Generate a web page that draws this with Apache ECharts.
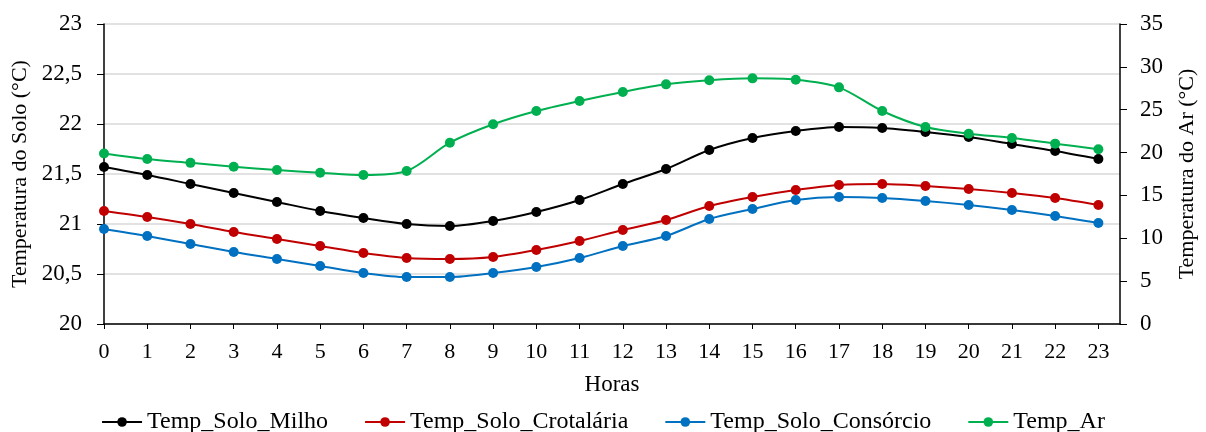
<!DOCTYPE html>
<html>
<head>
<meta charset="utf-8">
<script src="https://cdn.jsdelivr.net/npm/echarts@6/dist/echarts.min.js"></script>
<style>
  html, body { margin: 0; padding: 0; background: #fff; }
  #main { width: 1206px; height: 432px; }
</style>
</head>
<body>
<div id="main"></div>
<script>
// horas do dia
var horas = [0, 1, 2, 3, 4, 5, 6, 7, 8, 9, 10, 11, 12, 13, 14, 15, 16, 17, 18, 19, 20, 21, 22, 23]
// temperatura do solo (eixo esquerdo)
var soloMilho = [21.57, 21.49, 21.40, 21.31, 21.22, 21.13, 21.06, 21.00, 20.98, 21.03, 21.12, 21.24,
  21.40, 21.55, 21.74, 21.86, 21.93, 21.97, 21.96, 21.92, 21.87, 21.80, 21.73, 21.65]
var soloCrotalaria = [21.13, 21.07, 21.00, 20.92, 20.85, 20.78, 20.71, 20.66, 20.65, 20.67, 20.74, 20.83,
  20.94, 21.04, 21.18, 21.27, 21.34, 21.39, 21.40, 21.38, 21.35, 21.31, 21.26, 21.19]
var soloConsorcio = [20.95, 20.88, 20.80, 20.72, 20.65, 20.58, 20.51, 20.47, 20.47, 20.51, 20.57, 20.66,
  20.78, 20.88, 21.05, 21.15, 21.24, 21.27, 21.26, 21.23, 21.19, 21.14, 21.08, 21.01]
// temperatura do ar (eixo direito)
var tempAr = [19.9, 19.25, 18.8, 18.35, 17.97, 17.65, 17.38, 17.85, 21.15, 23.3, 24.85, 26.02,
  27.07, 27.96, 28.43, 28.66, 28.5, 27.61, 24.85, 22.98, 22.2, 21.7, 21.04, 20.38]

var nomes = ['Temp_Solo_Milho', 'Temp_Solo_Crotalária', 'Temp_Solo_Consórcio', 'Temp_Ar']
var cores = ['#000000', '#C00000', '#0070C0', '#00B050']

var fonte = 'Liberation Serif'

function pontos(vals) {
  return vals.map(function (v, i) { return [horas[i], v] })
}

function serie(idx, vals, eixo) {
  return {
    name: nomes[idx],
    type: 'line',
    yAxisIndex: eixo,
    data: pontos(vals),
    smooth: 0.3,
    symbol: 'circle',
    symbolSize: 10,
    color: cores[idx],
    lineStyle: { width: 2, color: cores[idx] },
    itemStyle: { color: cores[idx] },
  }
}

var myChart = echarts.init(document.getElementById('main'))
myChart.setOption({
  animation: false,
  textStyle: { fontFamily: fonte },
  grid: { left: 104, right: 86, top: 24, bottom: 108, containLabel: false, outerBoundsMode: 'none' },
  legend: {
    top: 405,
    left: 'center',
    itemWidth: 40,
    itemHeight: 12,
    itemGap: 36,
    textStyle: { fontFamily: fonte, fontSize: 24, color: '#000' },
    data: nomes,
  },
  xAxis: {
    type: 'value',
    min: 0,
    max: 23.5,
    interval: 1,
    name: 'Horas',
    nameLocation: 'middle',
    nameGap: 49,
    nameTextStyle: { fontFamily: fonte, fontSize: 23, color: '#000' },
    axisLine: { lineStyle: { color: '#000', width: 1.5 } },
    axisTick: { length: 5, lineStyle: { color: '#000' } },
    axisLabel: { fontFamily: fonte, fontSize: 22, color: '#000', margin: 17, showMaxLabel: false },
    splitLine: { show: false },
  },
  yAxis: [
    {
      type: 'value',
      min: 20,
      max: 23,
      interval: 0.5,
      name: 'Temperatura do Solo (°C)',
      nameLocation: 'middle',
      nameGap: 67,
      nameTextStyle: { fontFamily: fonte, fontSize: 22, color: '#000' },
      axisLine: { show: true, lineStyle: { color: '#000', width: 1.5 } },
      axisTick: { show: true, length: 7, lineStyle: { color: '#000' } },
      axisLabel: {
        fontFamily: fonte, fontSize: 23, color: '#000', margin: 22,
        formatter: function (v) { return String(v).replace('.', ',') },
      },
      splitLine: { lineStyle: { color: '#d9d9d9', width: 1.5 } },
    },
    {
      type: 'value',
      min: 0,
      max: 35,
      interval: 5,
      name: 'Temperatura do Ar (°C)',
      nameLocation: 'middle',
      nameGap: 56,
      nameRotate: 90,
      nameTextStyle: { fontFamily: fonte, fontSize: 22, color: '#000' },
      axisLine: { show: true, lineStyle: { color: '#000', width: 1.5 } },
      axisTick: { show: true, length: 7, lineStyle: { color: '#000' } },
      axisLabel: { fontFamily: fonte, fontSize: 23, color: '#000', margin: 20 },
      splitLine: { show: false },
    },
  ],
  series: [
    serie(0, soloMilho, 0),
    serie(1, soloCrotalaria, 0),
    serie(2, soloConsorcio, 0),
    serie(3, tempAr, 1),
  ],
})
</script>
</body>
</html>
